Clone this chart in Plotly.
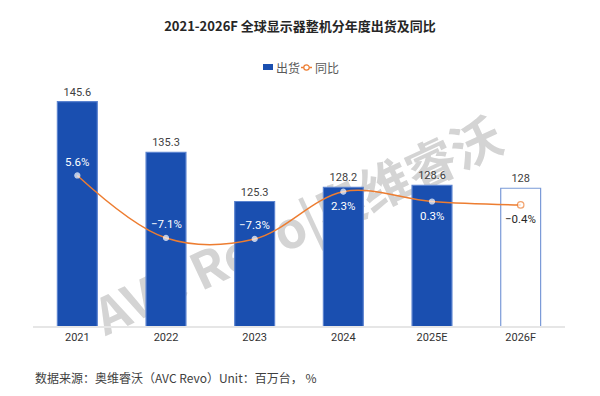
import plotly.graph_objects as go

categories = ["2021", "2022", "2023", "2024", "2025E", "2026F"]
shipments = [145.6, 135.3, 125.3, 128.2, 128.6, 128]
shipment_labels = ["145.6", "135.3", "125.3", "128.2", "128.6", "128"]
yoy = [5.6, -7.1, -7.3, 2.3, 0.3, -0.4]
yoy_labels = ["5.6%", "−7.1%", "−7.3%", "2.3%", "0.3%", "−0.4%"]
yoy_label_above = [True, True, True, False, False, False]

BLUE = "#1a4fb0"
ORANGE = "#ed7d31"
FONT = "Roboto, Noto Sans CJK SC, sans-serif"
CJK = "Noto Sans CJK SC, sans-serif"

# figure geometry (page body has an 8px offset)
W, H = 592, 388
ML, MR, MT, MB = 25, 35, 72, 70
PW, PH = W - ML - MR, H - MT - MB


def px(x):  # screen x -> paper
    return (x - 8 - ML) / PW


def py(y):  # screen y -> paper
    return (H - MB - (y - 8)) / PH


bar_fill = [BLUE] * 5 + ["#ffffff"]
bar_edge = ["#5b83cf"] * 5 + ["#7a9ad8"]

fig = go.Figure()
fig.add_trace(go.Bar(
    x=categories, y=shipments, name="出货",
    marker=dict(color=bar_fill, line=dict(color=bar_edge, width=1.2)),
    width=0.45,
    text=shipment_labels, textposition="outside", cliponaxis=False,
    textfont=dict(family=FONT, size=11, color="#404040"),
    hoverinfo="skip", showlegend=False,
))
fig.add_trace(go.Scatter(
    x=categories, y=yoy, name="同比", yaxis="y2",
    mode="lines+markers",
    line=dict(color=ORANGE, width=1.5, shape="spline", smoothing=1),
    marker=dict(color="white", size=[5, 5, 5, 5, 5, 6.5],
                line=dict(color=["#ffffff"] * 5 + [ORANGE], width=1.2)),
    cliponaxis=False,
    hoverinfo="skip", showlegend=False,
))

pct_annotations = []
for i, (v, t, above) in enumerate(zip(yoy, yoy_labels, yoy_label_above)):
    pct_annotations.append(dict(
        x=i, y=v, xref="x", yref="y2", text=t, showarrow=False,
        yanchor="middle", xanchor="center", yshift=13.5 if above else -14,
        font=dict(family=FONT, size=11.5,
                  color="white" if i < len(categories) - 1 else "#262626"),
    ))

legend_shapes = [
    dict(type="rect", xref="paper", yref="paper",
         x0=px(263), x1=px(273), y0=py(64), y1=py(70),
         fillcolor=BLUE, line=dict(width=0)),
    dict(type="line", xref="paper", yref="paper",
         x0=px(301), x1=px(312), y0=py(67.5), y1=py(67.5),
         line=dict(color=ORANGE, width=1.5)),
    dict(type="circle", xref="paper", yref="paper",
         x0=px(303.8), x1=px(309.2), y0=py(64.8), y1=py(70.2),
         fillcolor="white", line=dict(color=ORANGE, width=1.2)),
]

watermark = dict(
    type="rect", xref="paper", yref="paper",
    x0=px(250), x1=px(350), y0=py(258), y1=py(202),
    layer="below", line=dict(width=0), fillcolor="rgba(0,0,0,0)",
    label=dict(text="<b>AVC Revo|奥维睿沃</b>", textangle=-25,
               font=dict(family=CJK, size=50, color="#d4d4d4"),
               textposition="middle center"),
)

fig.update_layout(
    width=W, height=H,
    margin=dict(l=ML, r=MR, t=MT, b=MB),
    paper_bgcolor="white", plot_bgcolor="white",
    showlegend=False,
    title=dict(text="<b>2021-2026F 全球显示器整机分年度出货及同比</b>",
               x=292 / W, xanchor="center", y=1 - 18 / H, yanchor="middle",
               font=dict(family=CJK, size=13, color="#262626")),
    xaxis=dict(type="category", range=[-0.5, 5.5],
               showgrid=False, showline=True, linecolor="#e6e6e6", linewidth=2,
               ticks="", tickfont=dict(family=FONT, size=11, color="#333333"),
               fixedrange=True),
    yaxis=dict(range=[100, 150], visible=False, showgrid=False),
    yaxis2=dict(range=[-25, 25], overlaying="y", side="right", visible=False,
                showgrid=False),
    shapes=[watermark] + legend_shapes,
    annotations=pct_annotations + [
        dict(text="出货", xref="paper", yref="paper", x=px(273.5), y=py(67),
             xanchor="left", yanchor="middle", showarrow=False,
             font=dict(family=CJK, size=12, color="#595959")),
        dict(text="同比", xref="paper", yref="paper", x=px(312.5), y=py(67),
             xanchor="left", yanchor="middle", showarrow=False,
             font=dict(family=CJK, size=12, color="#595959")),
        dict(text="数据来源：奥维睿沃（AVC Revo）Unit：百万台， %",
             xref="paper", yref="paper", x=px(33), y=py(377),
             xanchor="left", yanchor="middle", showarrow=False,
             font=dict(family=CJK, size=12, color="#404040")),
    ],
)

fig.write_html("out.html")
